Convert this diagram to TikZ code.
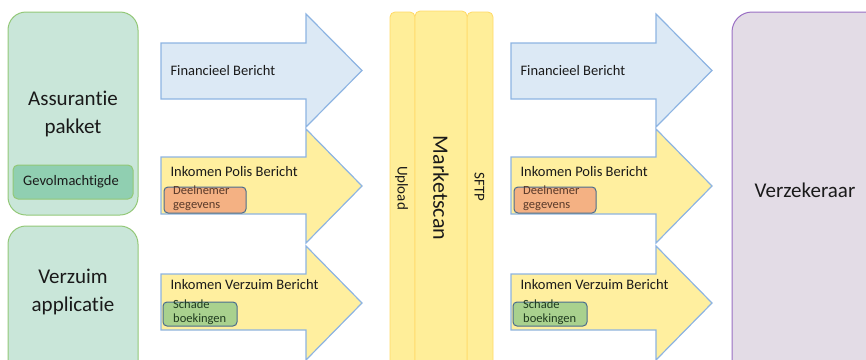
\documentclass[tikz,border=0pt]{standalone}
\usepackage{fontspec}
\setmainfont{Carlito}[Ligatures={NoCommon}]
\definecolor{grfill}{HTML}{C9E6D9}
\definecolor{grline}{HTML}{93C878}
\definecolor{gvfill}{HTML}{90CFB1}
\definecolor{blfill}{HTML}{DCE9F5}
\definecolor{blline}{HTML}{8DB4E2}
\definecolor{yefill}{HTML}{FFEF9F}
\definecolor{orfill}{HTML}{F4B183}
\definecolor{tagline}{HTML}{4A6C8E}
\definecolor{scfill}{HTML}{A9D18E}
\definecolor{colfill}{HTML}{FFEE99}
\definecolor{colline}{HTML}{FFD966}
\definecolor{vzfill}{HTML}{E3DCE6}
\definecolor{vzline}{HTML}{9A6FC4}
\definecolor{txt}{HTML}{1A1A1A}
\definecolor{deeltxt}{HTML}{5A3A2A}
\definecolor{schtxt}{HTML}{1F3A1F}
\tikzset{
  sysbox/.style={draw=grline, fill=grfill, line width=1pt, rounded corners=18pt},
  innerbox/.style={draw=grline, fill=gvfill, line width=1pt, rounded corners=5pt},
  bluearrow/.style={draw=blline, fill=blfill, line width=1.2pt},
  yellowarrow/.style={draw=blline, fill=yefill, line width=1.2pt},
  tagbox/.style={draw=tagline, line width=1pt, rounded corners=4pt},
  colbox/.style={draw=colline, fill=colfill, line width=0.8pt, rounded corners=5pt},
  bigtext/.style={font=\fontsize{21}{28}\selectfont, text=txt, align=center},
  arrowtext/.style={font=\fontsize{14.5}{17}\selectfont, text=txt, anchor=west},
  tagtext/.style={font=\fontsize{12.5}{14}\selectfont, align=left, anchor=north west, inner sep=0pt},
}
\begin{document}
\begin{tikzpicture}[x=1pt,y=-1pt]
\useasboundingbox (0,0) rectangle (866,359);
% left systems
\draw[sysbox] (8,12) rectangle (138,215);
\node[bigtext] (ass) at (73,114) {Assurantie\\pakket};
\draw[innerbox] (13,165) rectangle (133,199);
\node[font=\fontsize{14.5}{17}\selectfont, text=txt] (gev) at (71,182) {Gevolmachtigde};
\draw[sysbox] (8,226) rectangle (138,390);
\node[bigtext] (vzapp) at (73,292) {Verzuim\\applicatie};
% arrows (left and right)
\foreach \dx/\nm in {0/L,350/R}{
  \begin{scope}[xshift=\dx]
  \draw[bluearrow] (161,43) -- (306,43) -- (306,14) -- (362,70.5) -- (306,127) -- (306,99) -- (161,99) -- cycle;
  \node[arrowtext] (fin\nm) at (167,71) {Financieel Bericht};
  \draw[yellowarrow] (161,157) -- (306,157) -- (306,129) -- (362,186) -- (306,243) -- (306,214) -- (161,214) -- cycle;
  \node[arrowtext] (pol\nm) at (167,172) {Inkomen Polis Bericht};
  \draw[tagbox, fill=orfill] (164,187) rectangle (246,213);
  \node[tagtext, text=deeltxt] (deel\nm) at (173,186) {Deelnemer\\gegevens};
  \draw[yellowarrow] (161,274) -- (306,274) -- (306,246) -- (362,303) -- (306,360) -- (306,330) -- (161,330) -- cycle;
  \node[arrowtext] (vzb\nm) at (167,285) {Inkomen Verzuim Bericht};
  \draw[tagbox, fill=scfill] (163,302) rectangle (237,326);
  \node[tagtext, text=schtxt] (sch\nm) at (173,300) {Schade\\boekingen};
  \end{scope}
}
% Marketscan columns
\begin{scope}[rounded corners=5pt]
\draw[colbox] (390,370) -- (390,12) -- (415,12) -- (415,370);
\draw[colbox] (467,370) -- (467,12) -- (493,12) -- (493,370);
\draw[colbox] (415,370) -- (415,11) -- (467,11) -- (467,370);
\end{scope}
\node[rotate=-90, font=\fontsize{15}{17}\selectfont, text=txt] (upl) at (401.5,188) {Upload};
\node[rotate=-90, font=\fontsize{22}{26}\selectfont, text=txt] (mks) at (441,188) {Marketscan};
\node[rotate=-90, font=\fontsize{15}{17}\selectfont, text=txt] (sftp) at (479.5,187) {SFTP};
% Verzekeraar
\draw[draw=vzline, fill=vzfill, line width=1pt, rounded corners=20pt] (732,12) rectangle (900,400);
\node[bigtext] (vzk) at (805,190) {Verzekeraar};
\end{tikzpicture}
\end{document}
